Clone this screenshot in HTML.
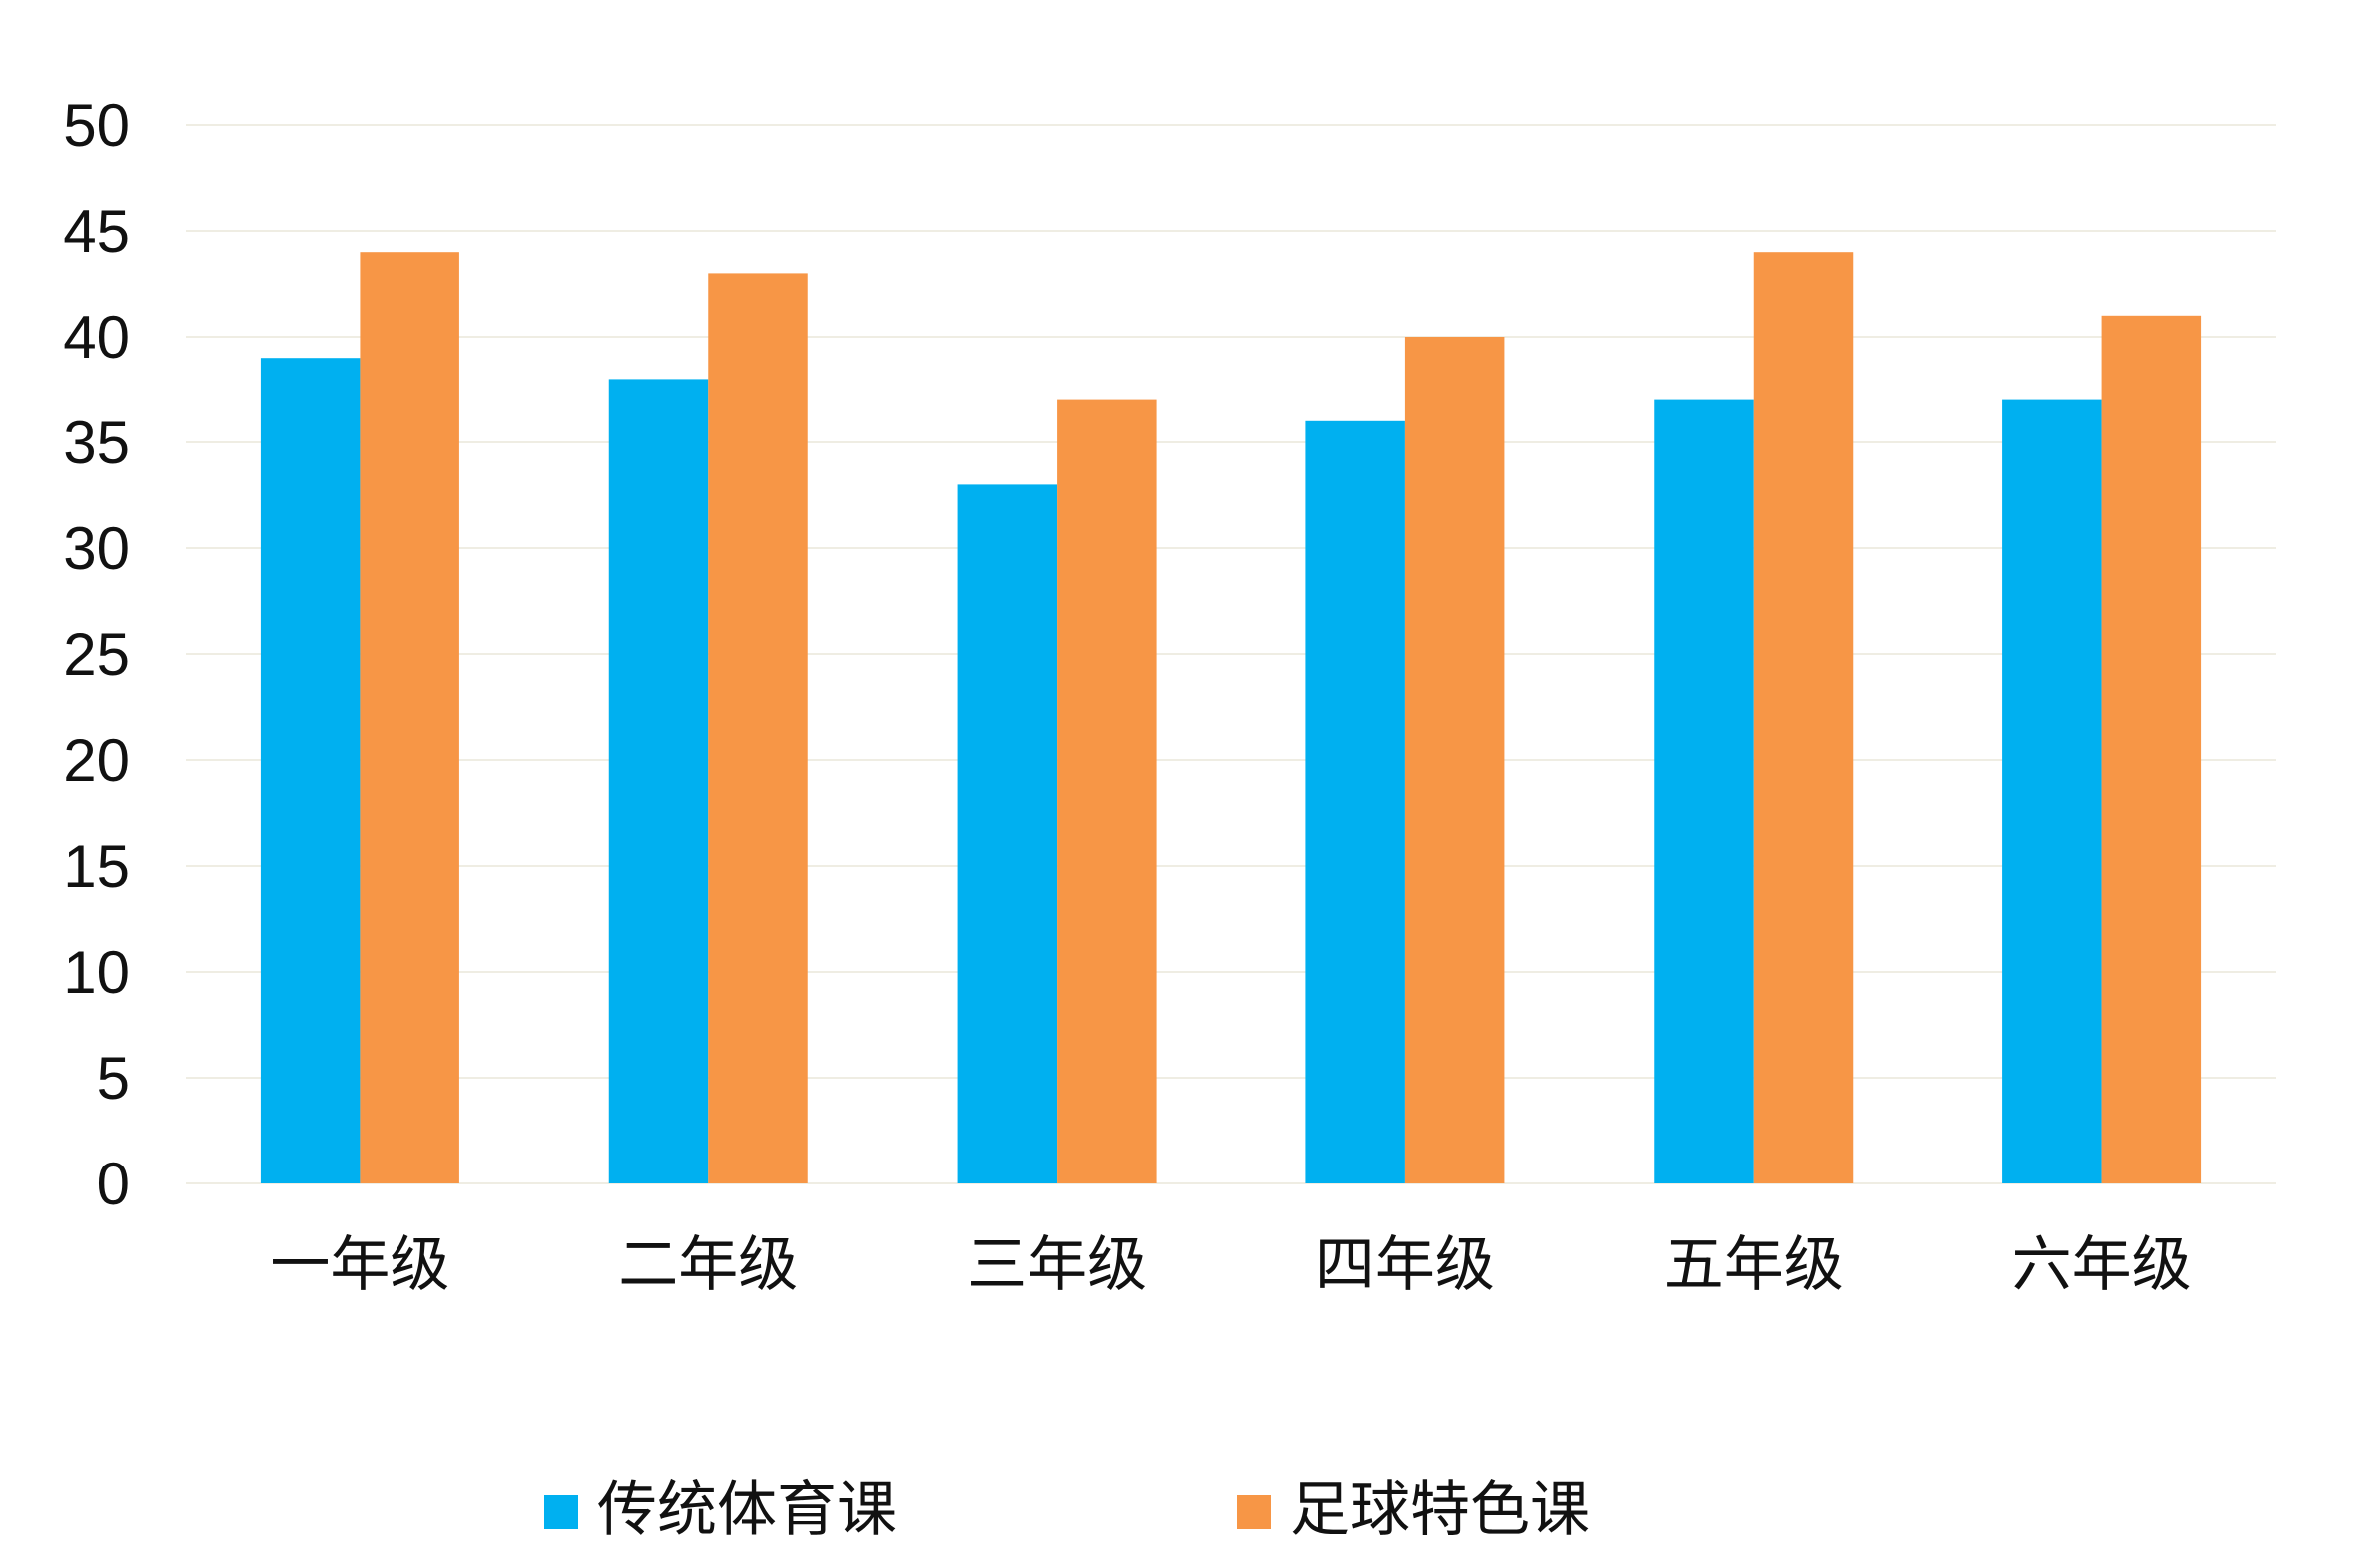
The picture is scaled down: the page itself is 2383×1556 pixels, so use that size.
<!DOCTYPE html>
<html><head><meta charset="utf-8"><style>
html,body{margin:0;padding:0;background:#fff;}
svg{display:block;}
</style></head><body>
<svg id="chart" width="2383" height="1556" viewBox="0 0 2383 1556" xmlns="http://www.w3.org/2000/svg">
<g id="grid"></g>
<g id="yticks"></g>
<g id="bars"></g>
<g id="xlabels"></g>
<g>
  <g>
    <rect x="545" y="1497" width="34" height="34" fill="#00B0F0"/>
    <text x="598" y="1532" font-size="60" font-family="'Liberation Sans','Noto Sans CJK SC',sans-serif" fill="#111">传统体育课</text>
  </g>
  <g>
    <rect x="1239" y="1497" width="34" height="34" fill="#F79646"/>
    <text x="1292" y="1532" font-size="60" font-family="'Liberation Sans','Noto Sans CJK SC',sans-serif" fill="#111">足球特色课</text>
  </g>
</g>
</svg>
<script>
const categories = ["一年级","二年级","三年级","四年级","五年级","六年级"];
const seriesTraditional = [39,38,33,36,37,37];
const seriesFootball = [44,43,37,40,44,41];
const yTicks = [0,5,10,15,20,25,30,35,40,45,50];

const NS = "http://www.w3.org/2000/svg";
const plotLeft = 186, plotRight = 2279, plotTop = 125, plotBottom = 1185, yMax = 50;
const band = (plotRight-plotLeft)/categories.length;
const barW = 99.5;
function yScale(v){ return plotBottom - (v/yMax)*(plotBottom-plotTop); }
function xc(i){ return plotLeft + band*(i+0.5); }
function mk(tag, attrs, parent){ const e=document.createElementNS(NS,tag); for(const k in attrs) e.setAttribute(k,attrs[k]); parent.appendChild(e); return e; }

const grid=document.getElementById('grid'), yt=document.getElementById('yticks');
yTicks.forEach(t=>{
  const l=mk('line',{x1:plotLeft,x2:plotRight,y1:yScale(t),y2:yScale(t),stroke:'#EFEDE3','stroke-width':2},grid);
  
  
  const tx=mk('text',{x:130,y:yScale(t)+21,'text-anchor':'end','font-size':60,'font-family':"'Liberation Sans Narrow','Liberation Sans',sans-serif",fill:'#111'},yt);
  tx.textContent=t;
  
  
});
const bars=document.getElementById('bars'), xl=document.getElementById('xlabels');
categories.forEach((c,i)=>{
  const b1=mk('rect',{x:xc(i)-barW,y:yScale(seriesTraditional[i]),width:barW,height:plotBottom-yScale(seriesTraditional[i]),fill:'#00B0F0'},bars);
  
  
  const b2=mk('rect',{x:xc(i),y:yScale(seriesFootball[i]),width:barW,height:plotBottom-yScale(seriesFootball[i]),fill:'#F79646'},bars);
  
  
  const t=mk('text',{x:xc(i),y:1287,'text-anchor':'middle','font-size':60,'font-family':"'Liberation Sans','Noto Sans CJK SC',sans-serif",fill:'#111'},xl);
  t.textContent=c;
  
  
});
</script>
</body></html>
